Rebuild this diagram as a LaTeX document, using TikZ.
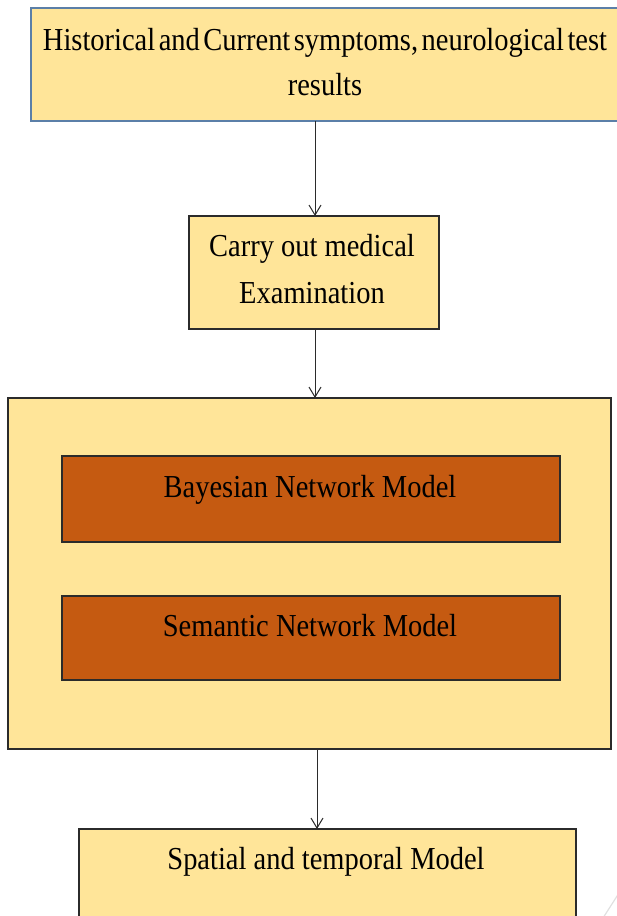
\documentclass[tikz,border=0pt]{standalone}
\usepackage{fontspec}
\setmainfont[FakeStretch=0.89]{Liberation Serif}
\usetikzlibrary{arrows.meta}
\definecolor{boxfill}{HTML}{FFE599}
\definecolor{innerfill}{HTML}{C55A11}
\definecolor{topedge}{HTML}{5B7FA8}
\definecolor{edge}{HTML}{2B2B2B}
\begin{document}
\begin{tikzpicture}[x=1pt,y=-1pt,
  box/.style={draw=edge,line width=1.4pt,fill=boxfill},
  inner/.style={draw=edge,line width=1.4pt,fill=innerfill},
  txt/.style={anchor=base,inner sep=0pt,font=\fontsize{32}{46}\selectfont,text=black},
  arr/.style={draw=edge,line width=1pt,-{Straight Barb[length=10pt,width=12pt,line width=1pt]}}]
\useasboundingbox (0,0) rectangle (617,916);
\clip (0,0) rectangle (617,916);
% boxes
\draw[box,draw=topedge] (31,8) rectangle (640,121);
\coordinate (topS) at (315,121);
\draw[box] (189,216) rectangle (439,329);
\coordinate (carryN) at (315,216);
\coordinate (carryS) at (315,329);
\draw[box] (8,398) rectangle (611,749);
\coordinate (mainN) at (315,398);
\coordinate (mainS) at (317,749);
\draw[inner] (62,456) rectangle (560,542);
\draw[inner] (62,596) rectangle (560,680);
\draw[box] (79,829) rectangle (576,940);
\coordinate (spatN) at (317,829);
% texts
\node[txt] (t1) at (325,50) {\spaceskip=3.5pt Historical and Current symptoms, neurological test};
\node[txt] (t2) at (325,95) {results};
\node[txt] (c1) at (312,256) {Carry out medical};
\node[txt] (c2) at (312,303) {Examination};
\node[txt] (b1) at (310,497) {Bayesian Network Model};
\node[txt] (s1) at (310,636) {Semantic Network Model};
\node[txt] (p1) at (326,869) {Spatial and temporal Model};
% arrows
\draw[arr] (topS) -- (carryN);
\draw[arr] (carryS) -- (mainN);
\draw[arr] (mainS) -- (spatN);
% faint page mark
\coordinate (m1) at (619,893);
\coordinate (m2) at (603,918);
\draw[black!12,line width=1.2pt] (m1) -- (m2);
\end{tikzpicture}
\end{document}
